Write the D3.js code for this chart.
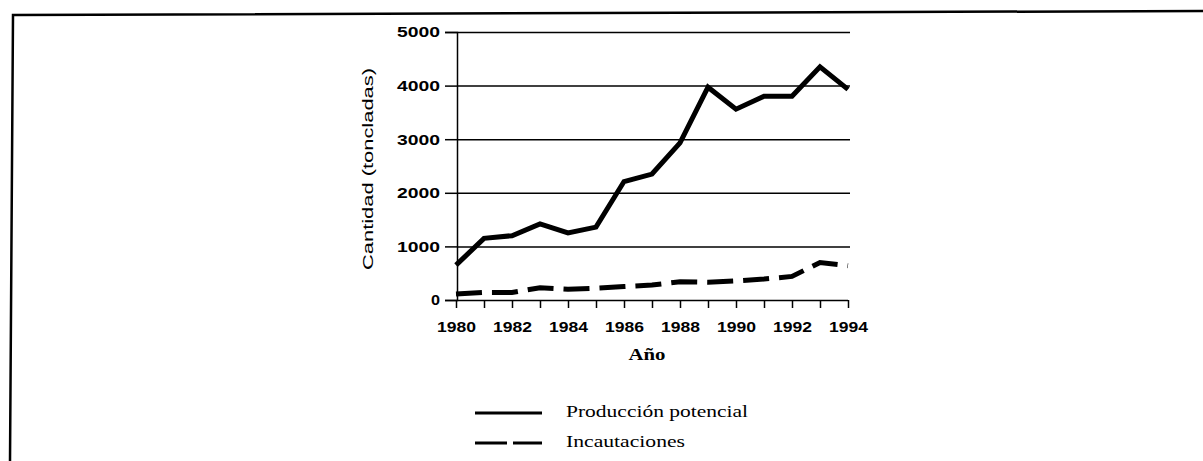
<!DOCTYPE html>
<html>
<head>
<meta charset="utf-8">
<script src="https://cdn.jsdelivr.net/npm/d3@7"></script>
<style>
  body { margin: 0; background: #fff; }
  svg { display: block; }
</style>
</head>
<body>
<svg id="chart" width="1203" height="461"></svg>
<script>
// data (toneladas)
const years = [1980, 1981, 1982, 1983, 1984, 1985, 1986, 1987, 1988, 1989, 1990, 1991, 1992, 1993, 1994];
const produccion = [650, 1150, 1200, 1420, 1250, 1360, 2210, 2350, 2930, 3970, 3560, 3800, 3800, 4350, 3930];
const incautaciones = [110, 140, 140, 230, 200, 220, 250, 280, 340, 330, 355, 390, 440, 700, 640];
const yTicks = [0, 1000, 2000, 3000, 4000, 5000];
const xLabelYears = [1980, 1982, 1984, 1986, 1988, 1990, 1992, 1994];
const seriesNames = ["Producción potencial", "Incautaciones"];

const svg = d3.select("#chart");
const sans = "Arial, 'Liberation Sans', sans-serif";
const serif = "'Times New Roman', 'Liberation Serif', serif";

// ! SCALES
const x = d3.scaleLinear().domain([1980, 1994]).range([456, 848]);
const y = d3.scaleLinear().domain([0, 5000]).range([300, 32]);

// ! PAGE FRAME (top + left border of the scanned page)
svg.append("path")
  .attr("d", "M10,461 L13,15 L1203,11")
  .attr("fill", "none")
  .attr("stroke", "#000")
  .attr("stroke-width", 2.5);

// ! HORIZONTAL GRID + Y AXIS
const yAxis = svg.append("g")
  .attr("transform", "translate(457,0)")
  .call(d3.axisLeft(y).tickValues(yTicks).tickSize(12).tickPadding(5).tickFormat(d3.format("d")));
yAxis.select(".domain").attr("stroke-width", 1.5);
yAxis.selectAll(".tick line").attr("stroke-width", 1.5);
yAxis.selectAll(".tick").append("line")
  .attr("x1", 0).attr("x2", d => d === 0 ? 391 : 393)
  .attr("stroke", "#000").attr("stroke-width", 1.5);
yAxis.selectAll(".tick text")
  .attr("font-family", sans).attr("font-size", 15).attr("font-weight", "bold")
  .attr("fill", "#000")
  .attr("textLength", d => d === 0 ? 9 : 43).attr("lengthAdjust", "spacingAndGlyphs");

// ! X AXIS (ticks each year, labels every two)
const xAxis = svg.append("g")
  .attr("transform", `translate(0,${y(0)})`)
  .call(d3.axisBottom(x).tickValues(years).tickSize(8).tickPadding(13)
    .tickFormat(d => xLabelYears.includes(d) ? d : ""));
xAxis.select(".domain").remove();
xAxis.selectAll(".tick line").attr("stroke-width", 1.5);
xAxis.selectAll(".tick text")
  .attr("font-family", sans).attr("font-size", 15).attr("font-weight", "bold")
  .attr("fill", "#000")
  .filter(d => xLabelYears.includes(d))
  .attr("textLength", 39).attr("lengthAdjust", "spacingAndGlyphs");

// ! AXIS TITLES
svg.append("text")
  .attr("transform", "translate(373,169) rotate(-90)")
  .attr("text-anchor", "middle")
  .attr("font-family", sans).attr("font-size", 15)
  .attr("fill", "#000")
  .attr("textLength", 202).attr("lengthAdjust", "spacingAndGlyphs")
  .text("Cantidad (toncladas)");

svg.append("text")
  .attr("x", 647).attr("y", 360)
  .attr("text-anchor", "middle")
  .attr("font-family", serif).attr("font-size", 17).attr("font-weight", "bold")
  .attr("textLength", 37).attr("lengthAdjust", "spacingAndGlyphs")
  .text("Año");

// ! DATA LINES
const line = d3.line()
  .x((d, i) => x(years[i]))
  .y(d => y(d));

svg.append("path")
  .datum(produccion)
  .attr("d", line)
  .attr("fill", "none")
  .attr("stroke", "#000")
  .attr("stroke-width", 5)
  .attr("stroke-linejoin", "miter");

svg.append("path")
  .datum(incautaciones)
  .attr("d", line)
  .attr("fill", "none")
  .attr("stroke", "#000")
  .attr("stroke-width", 5)
  .attr("stroke-dasharray", "26,10");

// ! LEGEND
const legend = svg.append("g");
const legendRows = [
  { name: seriesNames[0], y: 413, dash: null, len: 182 },
  { name: seriesNames[1], y: 443, dash: "32,6", len: 119 }
];
legendRows.forEach(r => {
  legend.append("line")
    .attr("x1", 475).attr("x2", 542)
    .attr("y1", r.y).attr("y2", r.y)
    .attr("stroke", "#000").attr("stroke-width", 3)
    .attr("stroke-dasharray", r.dash);
  legend.append("text")
    .attr("x", 566).attr("y", r.y + 4)
    .attr("font-family", serif).attr("font-size", 16)
    .attr("textLength", r.len).attr("lengthAdjust", "spacingAndGlyphs")
    .text(r.name);
});
</script>
</body>
</html>
